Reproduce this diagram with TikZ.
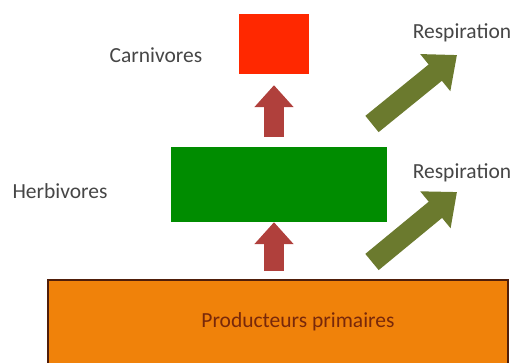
\documentclass[tikz,border=0pt]{standalone}
\usepackage{tikz}
\usepackage{fontspec}
\usepackage{xcolor}
\setmainfont{Carlito}
\usetikzlibrary{positioning}
\usetikzlibrary{arrows.meta}
\usetikzlibrary{calc}

\definecolor{carnred}{RGB}{255,40,0}
\definecolor{herbgreen}{RGB}{0,140,0}
\definecolor{prodorange}{RGB}{240,130,10}
\definecolor{prodborder}{RGB}{80,30,10}
\definecolor{flowred}{RGB}{176,64,60}
\definecolor{respolive}{RGB}{107,122,46}
\definecolor{labelgray}{RGB}{70,70,70}
\definecolor{prodtext}{RGB}{120,40,10}

\tikzset{
  level/.style={rectangle, inner sep=0pt},
  lbl/.style={font=\fontsize{21.5}{25}\selectfont, text=labelgray, inner sep=0pt},
  flow/.style={draw=flowred, line width=20pt, -{Triangle[width=38pt,length=22pt]}},
  resp/.style={draw=respolive, line width=21pt, -{Triangle[width=46pt,length=28pt]}}
}

\begin{document}
\begin{tikzpicture}[x=1pt,y=1pt]
\useasboundingbox (0,0) rectangle (515,363);
\clip (0,0) rectangle (515,363);
% trophic levels
\node[level, fill=carnred, minimum width=70pt, minimum height=60pt] (carn) at (274,319) {};
\node[level, fill=herbgreen, minimum width=216pt, minimum height=75pt] (herb) at (279,178.5) {};
\node[level, fill=prodorange, draw=prodborder, line width=1.5pt, minimum width=460pt, minimum height=100pt] (prod) at (278,33) {};
\node[lbl, text=prodtext] (prodlbl) at (298,41) {Producteurs primaires};
% names
\node[lbl] (carnlbl) at (156,308) {Carnivores};
\node[lbl] (herblbl) at (60,172) {Herbivores};
\node[lbl] (resp1) at (462,330) {Respiration};
\node[lbl] (resp2) at (462,190) {Respiration};
% flows up
\coordinate (f1a) at ([yshift=10pt]carn.south |- herb.north);
\coordinate (f1b) at ([yshift=-11pt]carn.south);
\coordinate (f2a) at ([yshift=8pt]carn.south |- prod.north);
\coordinate (f2b) at (carn.south |- herb.south);
\draw[flow] (f1a) -- (f1b);
\draw[flow] (f2a) -- (f2b);
% respiration
\coordinate (r1a) at (372,239);
\coordinate (r1b) at (457,308);
\coordinate (r2a) at (372,101);
\coordinate (r2b) at (457,171);
\draw[resp] (r1a) -- (r1b);
\draw[resp] (r2a) -- (r2b);
\end{tikzpicture}
\end{document}
